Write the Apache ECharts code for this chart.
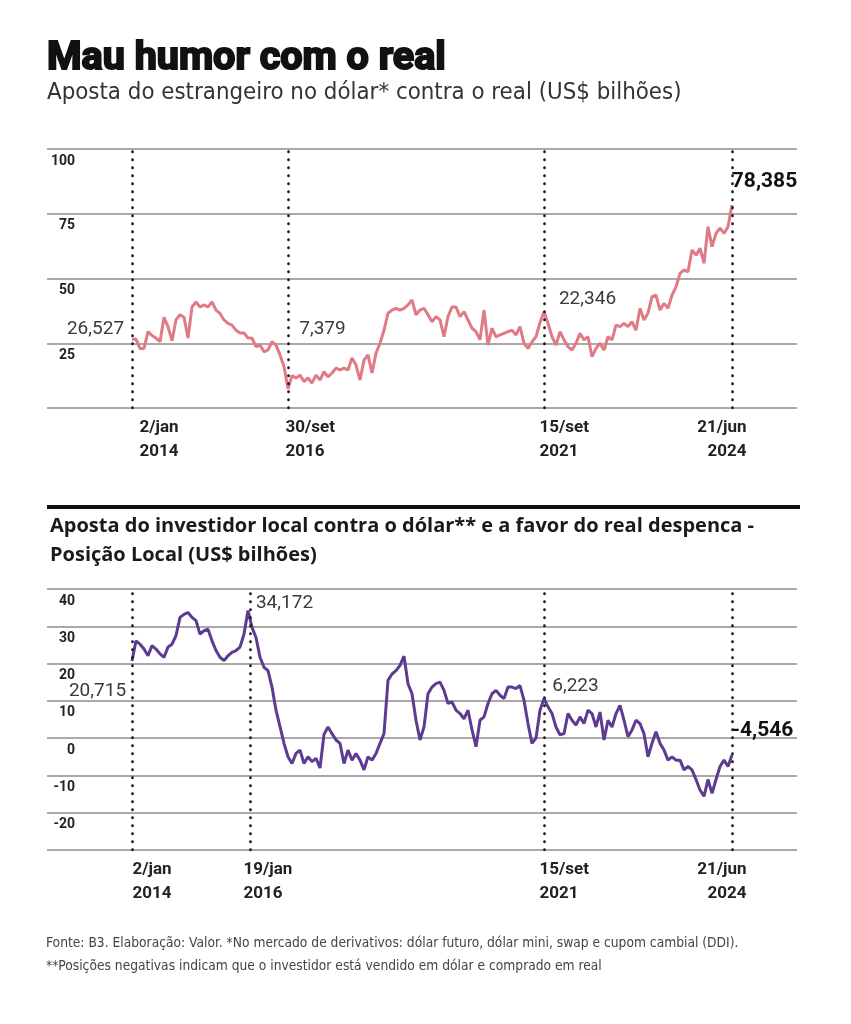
<!DOCTYPE html>
<html><head><meta charset="utf-8">
<script src="https://cdn.jsdelivr.net/npm/echarts@6/dist/echarts.min.js"></script>
<style>html,body{margin:0;padding:0;background:#fff;}#c{width:851px;height:1024px;}</style>
</head><body><div id="c"></div>
<script>
// ---- texts ----
const mainTitle = 'Mau humor com o real';
const subTitle = 'Aposta do estrangeiro no dólar* contra o real (US$ bilhões)';
const secondTitle = ['Aposta do investidor local contra o dólar** e a favor do real despenca -', 'Posição Local (US$ bilhões)'];
const footnotes = ['Fonte: B3. Elaboração: Valor. *No mercado de derivativos: dólar futuro, dólar mini, swap e cupom cambial (DDI).',
                   '**Posições negativas indicam que o investidor está vendido em dólar e comprado em real'];

// ---- data (evenly spaced observations, 2/jan/2014 .. 21/jun/2024) ----
const foreignBet = [
 26.5,26.6,23,23,29.5,28,27,25.6,35,31.4,
 26,34,36,35,27,39,41,39,39.8,39,
 41,37.8,36.5,34,32.7,32,30,29,29,27,
 27,23.7,24.3,21.7,22.4,25.6,24.3,20.5,16,7.4,
 12.5,11.6,12.7,10.2,11.6,9.6,12.7,10.8,14,12,
 13.5,15.4,14.7,15.4,14.7,19.3,16.6,10.8,18.5,20.5,
 13.5,21.2,25,30,36.6,37.8,38.5,37.8,38.5,39.8,
 41.7,36,37.8,38.5,36,33.3,35.3,34,27.5,35.3,
 39,39,35.3,37.2,34,30.8,29.5,26.3,37.8,24.3,
 30.8,27.5,28.2,28.8,29.5,30,28.2,31.4,25,23,
 25.5,27.5,33,
 37.2,32.7,27.5,24.3,29.5,26.3,23.7,22.4,25,28.8,
 26.3,27.5,19.8,23,25,22.4,27.5,26.3,32,31.4,
 32.7,31.4,33.3,30,38.5,34,36.6,43,43.6,37.8,
 40.4,38.5,43.6,46.8,52,53.3,52.6,61,59,61.7,
 55.9,70,62.3,67.4,69.4,67.4,70,78.4
];
const localPosition = [
 20.7,26.1,25.2,23.9,22.1,24.8,23.9,22.6,21.7,24.4,
 25.2,27.5,32.4,33.2,33.7,32.4,31.5,27.9,28.8,29.2,
 26.1,23.5,21.7,20.8,22.1,23,23.5,24.4,27.9,34.2,
 29.7,27,21.7,19,18.1,13.7,7.5,3.1,-1.4,-5,
 -6.8,-4.1,-3.2,-6.8,-5,-6.3,-5.4,-8,1,3,
 1.2,-0.5,-1.4,-6.8,-3.2,-5.9,-4.1,-5.9,-8.5,-5,
 -5.9,-4.1,-1.4,1.2,15.5,17.2,18.1,19.5,22,14.6,
 11.9,4.8,-0.5,3,11.9,13.7,14.6,15,12.8,9.3,
 9.7,7.5,6.6,5.2,7.5,2.2,-2.3,4.8,5.7,9.3,
 11.9,12.8,11.5,10.6,13.7,13.7,13.3,14.1,10.1,3.9,
 -1.4,0,
 7.5,10.6,8.4,6.6,3,0.9,1.2,6.6,4.8,3.5,
 5.7,3.9,7.5,6.6,3,7,-0.5,4.8,3,6.6,
 8.8,4.8,0.4,2.2,4.8,3.9,1.2,-5,-1.4,1.7,
 -1.4,-3.2,-5.9,-5,-5.9,-5.9,-8.5,-7.6,-8.5,-11.1,
 -13.9,-15.6,-11.1,-14.8,-11.1,-7.6,-5.9,-7.6,-4.5
];

// ---- key dates (observation index) and annotations ----
const topDateIdx = [0, 39, 103, 150];
const topDateLabels = ['2/jan\n2014', '30/set\n2016', '15/set\n2021', '21/jun\n2024'];
const bottomDateIdx = [0, 29.5, 103, 150];
const bottomDateLabels = ['2/jan\n2014', '19/jan\n2016', '15/set\n2021', '21/jun\n2024'];
const topNoteIdx = [0, 39, 103, 150];
const topNotes = ['26,527', '7,379', '22,346', '78,385'];
const bottomNoteIdx = [0, 29, 103, 150];
const bottomNotes = ['20,715', '34,172', '6,223', '-4,546'];

// ---- axis ticks ----
const topTicks = [0, 25, 50, 75, 100];
const bottomTicks = [-30, -20, -10, 0, 10, 20, 30, 40];

// ---- layout ----
const GL = 47, GW = 750;
const X0 = 132, STEP = 4;
const xMin = -(X0 - GL) / STEP, xMax = (GL + GW - X0) / STEP;
const topNoteOff = [[-36, -10], [35, -59], [44, -12], [33, -23]];
const bottomNoteOff = [[-34, 31], [37, -7], [32, -12], [31, -24]];
const topDateOff = [[8, 'left'], [-2, 'left'], [-4, 'left'], [15, 'right']];
const bottomDateOff = [[1, 'left'], [-6, 'left'], [-4, 'left'], [15, 'right']];
const lastBold = 3;
const condensed = '"DejaVu Sans Condensed", Roboto, sans-serif';

function yAxisFor(ticks, gridIndex) {
  const mn = ticks[0], mx = ticks[ticks.length - 1];
  return {
    type: 'value', gridIndex, min: mn, max: mx, interval: ticks[1] - ticks[0],
    axisLine: {show: false}, axisTick: {show: false},
    splitLine: {show: true, lineStyle: {color: '#8c8c8c', width: 1.5}},
    axisLabel: {
      inside: true, margin: 28, align: 'right', verticalAlign: 'top', padding: [5, 0, 0, 0],
      fontFamily: 'Roboto', fontWeight: 'bold', fontSize: 14, color: '#222',
      formatter: v => (v === mn ? '' : String(v))
    }
  };
}
function xAxisFor(gridIndex) {
  return {type: 'value', gridIndex, min: xMin, max: xMax, show: false};
}
function dateMarks(idx, labels, offs, yBase) {
  return idx.map((v, i) => ({
    coord: [v, yBase], symbol: 'rect', symbolSize: 1, itemStyle: {color: 'rgba(0,0,0,0)'},
    label: {
      show: true, formatter: labels[i], position: [offs[i][0], 8],
      align: offs[i][1], verticalAlign: 'top',
      fontFamily: 'Roboto', fontWeight: 'bold', fontSize: 17, lineHeight: 24, color: '#222'
    }
  }));
}
function noteMarks(idx, notes, offs, data) {
  return idx.map((v, i) => ({
    coord: [v, data[v]], symbol: 'rect', symbolSize: 1, itemStyle: {color: 'rgba(0,0,0,0)'},
    label: {
      show: true, formatter: notes[i], position: offs[i], align: 'center', verticalAlign: 'middle',
      fontFamily: 'Roboto', fontWeight: i === lastBold ? 'bold' : 'normal',
      fontSize: i === lastBold ? 21 : 19, color: i === lastBold ? '#111' : '#3a3a3a'
    }
  }));
}
function dotted(idx) {
  return {
    silent: true, symbol: ['none', 'none'], label: {show: false}, animation: false,
    lineStyle: {color: '#1a1a1a', width: 2.6, type: [0.5, 7.5], cap: 'round'},
    emphasis: {disabled: true},
    data: idx.map(v => ({xAxis: v}))
  };
}

const chart = echarts.init(document.getElementById('c'), null, {renderer: 'canvas'});
chart.setOption({
  animation: false,
  backgroundColor: '#ffffff',
  grid: [
    {left: GL, top: 149, width: GW, height: 259},
    {left: GL, top: 589, width: GW, height: 261}
  ],
  xAxis: [xAxisFor(0), xAxisFor(1)],
  yAxis: [yAxisFor(topTicks, 0), yAxisFor(bottomTicks, 1)],
  series: [
    {
      type: 'line', xAxisIndex: 0, yAxisIndex: 0, clip: false, symbol: 'none', z: 3,
      lineStyle: {color: '#e07a85', width: 3},
      data: foreignBet.map((v, i) => [i, v]),
      markLine: dotted(topDateIdx),
      markPoint: {silent: true, animation: false,
        data: dateMarks(topDateIdx, topDateLabels, topDateOff, topTicks[0])
          .concat(noteMarks(topNoteIdx, topNotes, topNoteOff, foreignBet))}
    },
    {
      type: 'line', xAxisIndex: 1, yAxisIndex: 1, clip: false, symbol: 'none', z: 3,
      lineStyle: {color: '#5c3b91', width: 3},
      data: localPosition.map((v, i) => [i, v]),
      markLine: dotted(bottomDateIdx),
      markPoint: {silent: true, animation: false,
        data: dateMarks(bottomDateIdx, bottomDateLabels, bottomDateOff, bottomTicks[0])
          .concat(noteMarks(bottomNoteIdx, bottomNotes, bottomNoteOff, localPosition))}
    }
  ],
  graphic: [
    {type: 'text', x: 47, y: 59, style: {text: mainTitle, fill: '#111', stroke: '#111', lineWidth: 2,
      font: 'bold 39.5px Roboto', textVerticalAlign: 'middle', verticalAlign: 'middle'}},
    {type: 'text', x: 47, y: 93, style: {text: subTitle, fill: '#333',
      font: '23.8px ' + condensed, textVerticalAlign: 'middle', verticalAlign: 'middle'}},
    {type: 'rect', shape: {x: 47, y: 505, width: 753, height: 4}, style: {fill: '#111'}},
    {type: 'text', x: 50, y: 526, style: {text: secondTitle[0], fill: '#1a1a1a',
      font: 'bold 20px "Open Sans"', textVerticalAlign: 'middle', verticalAlign: 'middle'}},
    {type: 'text', x: 50, y: 555, style: {text: secondTitle[1], fill: '#1a1a1a',
      font: 'bold 20px "Open Sans"', textVerticalAlign: 'middle', verticalAlign: 'middle'}},
    {type: 'text', x: 46, y: 943, style: {text: footnotes[0], fill: '#444',
      font: '13.7px ' + condensed, textVerticalAlign: 'middle', verticalAlign: 'middle'}},
    {type: 'text', x: 46, y: 966, style: {text: footnotes[1], fill: '#444',
      font: '13.7px ' + condensed, textVerticalAlign: 'middle', verticalAlign: 'middle'}}
  ]
});
</script></body></html>
